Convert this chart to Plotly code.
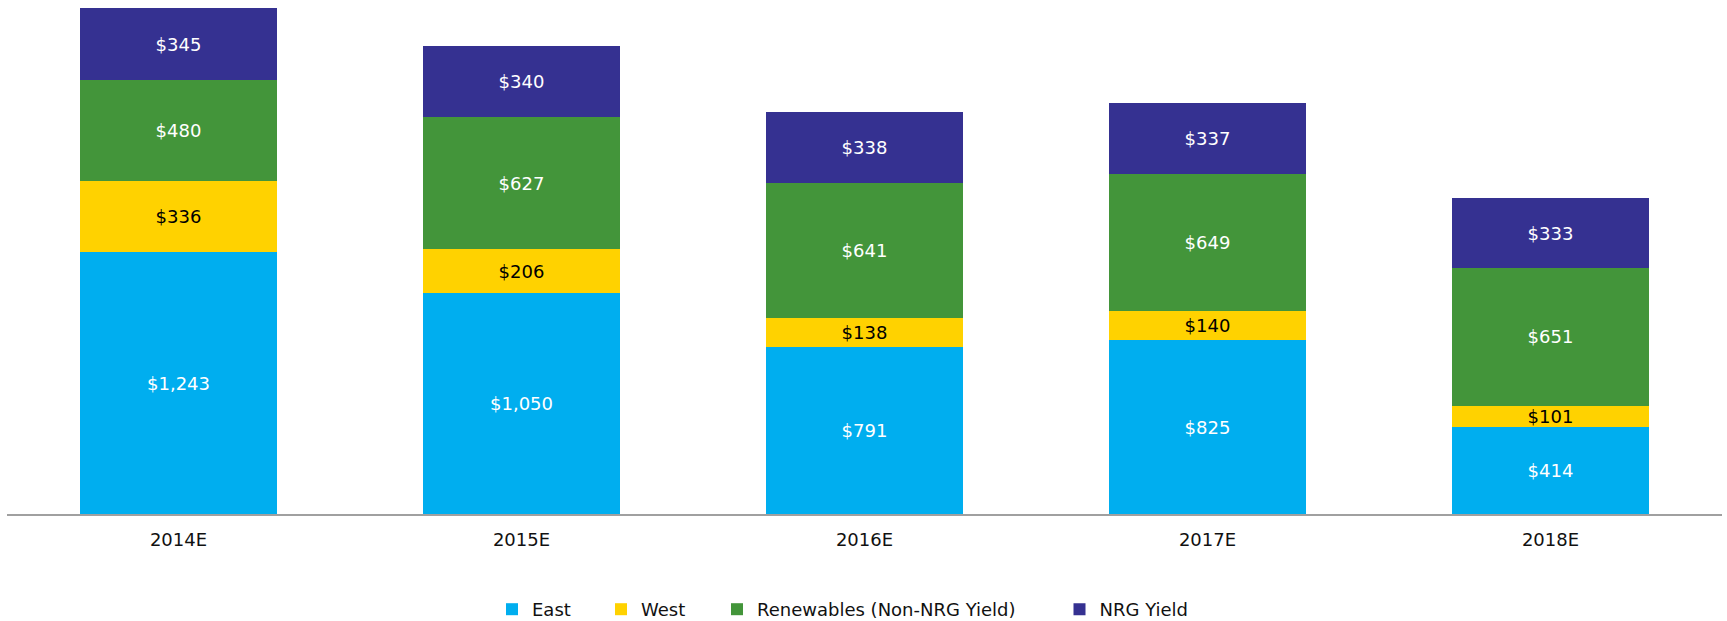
import plotly.graph_objects as go

# Stacked segment values per year ($ millions)
years = ["2014E", "2015E", "2016E", "2017E", "2018E"]
east = [1243, 1050, 791, 825, 414]
west = [336, 206, 138, 140, 101]
renewables = [480, 627, 641, 649, 651]
nrg_yield = [345, 340, 338, 337, 333]

series = [
    ("East", east, "#00AEEF", "white"),
    ("West", west, "#FFD200", "black"),
    ("Renewables (Non-NRG Yield)", renewables, "#43953A", "white"),
    ("NRG Yield", nrg_yield, "#353191", "white"),
]

FONT = "DejaVu Sans, Verdana, sans-serif"
W, H = 1727, 621
ML, MR, MT, MB = 7, 5, 7, 107
PLOT_W = W - ML - MR

# left edge (px) of each legend entry, spread out along the bottom row
legend_left_px = [492, 601, 717, 1059.5]
legend_ids = ["legend", "legend2", "legend3", "legend4"]

fig = go.Figure()
for (name, vals, color, txtcolor), lid in zip(series, legend_ids):
    fig.add_trace(go.Bar(
        name=name,
        x=years,
        y=vals,
        legend=lid,
        marker=dict(color=color, line=dict(width=0)),
        text=[f"${v:,}" for v in vals],
        textposition="inside",
        insidetextanchor="middle",
        insidetextfont=dict(color=txtcolor, size=18, family=FONT),
        hoverinfo="skip",
    ))

totals = [a + b + c + d for a, b, c, d in zip(east, west, renewables, nrg_yield)]

legend_layouts = {}
for lid, left in zip(legend_ids, legend_left_px):
    legend_layouts[lid] = dict(
        orientation="h",
        x=(left - ML) / PLOT_W,
        xanchor="left",
        yref="container",
        y=1 - 609.5 / H,
        yanchor="middle",
        bgcolor="rgba(0,0,0,0)",
        borderwidth=0,
        font=dict(size=18, family=FONT, color="#111111"),
    )

fig.update_layout(
    barmode="stack",
    bargap=0.426,
    width=W,
    height=H,
    margin=dict(l=ML, r=MR, t=MT, b=MB),
    paper_bgcolor="white",
    plot_bgcolor="white",
    font=dict(family=FONT, size=18, color="#111111"),
    uniformtext=dict(minsize=18, mode="show"),
    showlegend=True,
    xaxis=dict(
        showline=True,
        linecolor="#A0A0A0",
        linewidth=2,
        showgrid=False,
        zeroline=False,
        ticks="",
        ticklabelstandoff=8,
        tickfont=dict(size=18, family=FONT, color="#111111"),
    ),
    yaxis=dict(
        range=[0, max(totals) * 1.0014],
        visible=False,
        showgrid=False,
        zeroline=False,
    ),
    **legend_layouts,
)

fig.write_html("out.html")
